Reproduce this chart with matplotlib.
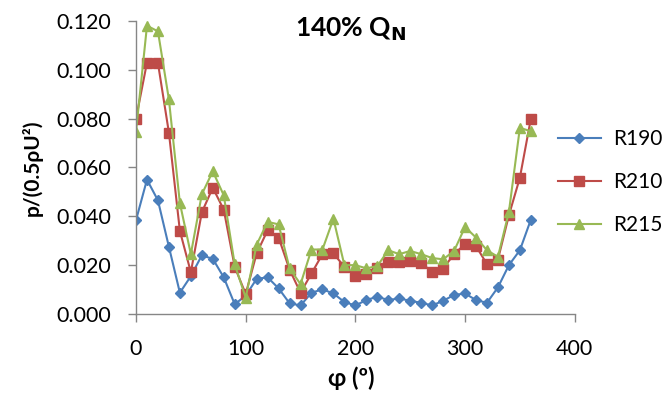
import matplotlib
matplotlib.use("Agg")
import matplotlib.pyplot as plt

phi = [0, 10, 20, 30, 40, 50, 60, 70, 80, 90, 100, 110, 120, 130, 140, 150, 160, 170, 180,
       190, 200, 210, 220, 230, 240, 250, 260, 270, 280, 290, 300, 310, 320, 330, 340, 350, 360]

r190 = [0.0384, 0.0550, 0.0465, 0.0275, 0.0087, 0.0155, 0.0240, 0.0226, 0.0150, 0.0040,
        0.0075, 0.0144, 0.0150, 0.0105, 0.0044, 0.0035, 0.0087, 0.0101, 0.0084, 0.0049,
        0.0035, 0.0057, 0.0071, 0.0057, 0.0064, 0.0054, 0.0046, 0.0035, 0.0054, 0.0078,
        0.0084, 0.0057, 0.0046, 0.0109, 0.0200, 0.0261, 0.0386]

r210 = [0.0800, 0.1029, 0.1027, 0.0742, 0.0340, 0.0171, 0.0416, 0.0517, 0.0427, 0.0193,
        0.0082, 0.0248, 0.0343, 0.0313, 0.0182, 0.0087, 0.0166, 0.0245, 0.0248, 0.0193,
        0.0155, 0.0163, 0.0188, 0.0212, 0.0212, 0.0215, 0.0210, 0.0171, 0.0186, 0.0245,
        0.0286, 0.0278, 0.0204, 0.0223, 0.0404, 0.0558, 0.0799]

r215 = [0.0747, 0.1180, 0.1157, 0.0878, 0.0454, 0.0245, 0.0490, 0.0584, 0.0486, 0.0203,
        0.0067, 0.0284, 0.0377, 0.0367, 0.0187, 0.0122, 0.0264, 0.0264, 0.0390, 0.0200,
        0.0200, 0.0187, 0.0196, 0.0261, 0.0245, 0.0258, 0.0245, 0.0229, 0.0224, 0.0258,
        0.0356, 0.0313, 0.0261, 0.0234, 0.0418, 0.0762, 0.0748]

labels = ["R190", "R210", "R215"]
colors = ["#4A7EBB", "#BE4B48", "#98B954"]
markers = ["D", "s", "^"]
msizes = [5.5, 6.5, 7]

plt.rcParams['font.family'] = ['Lato', 'DejaVu Sans']

fig = plt.figure(figsize=(6.71, 3.93), dpi=100)
ax = fig.add_axes([0.2027, 0.201, 0.6538, 0.746])

for y, lab, c, m, ms in zip([r190, r210, r215], labels, colors, markers, msizes):
    ax.plot(phi, y, color=c, marker=m, markersize=ms, linewidth=1.5, label=lab,
            markeredgecolor=c)

ax.set_xlim(0, 400)
ax.set_ylim(0, 0.120)
ax.set_xticks([0, 100, 200, 300, 400])
ax.set_yticks([0, 0.02, 0.04, 0.06, 0.08, 0.10, 0.12])
ax.set_yticklabels([f"{v:.3f}" for v in [0, 0.02, 0.04, 0.06, 0.08, 0.10, 0.12]])

for s in ["top", "right"]:
    ax.spines[s].set_visible(False)
for s in ["left", "bottom"]:
    ax.spines[s].set_color("#868686")
    ax.spines[s].set_linewidth(1.0)
ax.tick_params(axis="both", direction="out", length=6, color="#868686",
               labelsize=15.5, labelcolor="black", width=1.0)
ax.tick_params(axis="x", pad=12)
ax.tick_params(axis="y", pad=12)

ax.set_ylabel("p/(0.5ρU²)", fontsize=15, fontweight="bold")
ax.yaxis.set_label_coords(-0.212, 0.5)
ax.set_xlabel("φ (º)", fontsize=17, fontweight="bold")
ax.xaxis.set_label_coords(0.49, -0.18)

fig.text(0.522, 0.925, r"140% Q$_\mathbf{N}$", fontsize=19, fontweight="bold",
         ha="center", va="center")

leg = ax.legend(loc="center left", bbox_to_anchor=(0.803, 0.537),
                bbox_transform=fig.transFigure, frameon=False, fontsize=15,
                handlelength=2.1, labelspacing=1.1, handletextpad=0.55)

fig.savefig("out.png", dpi=100)
